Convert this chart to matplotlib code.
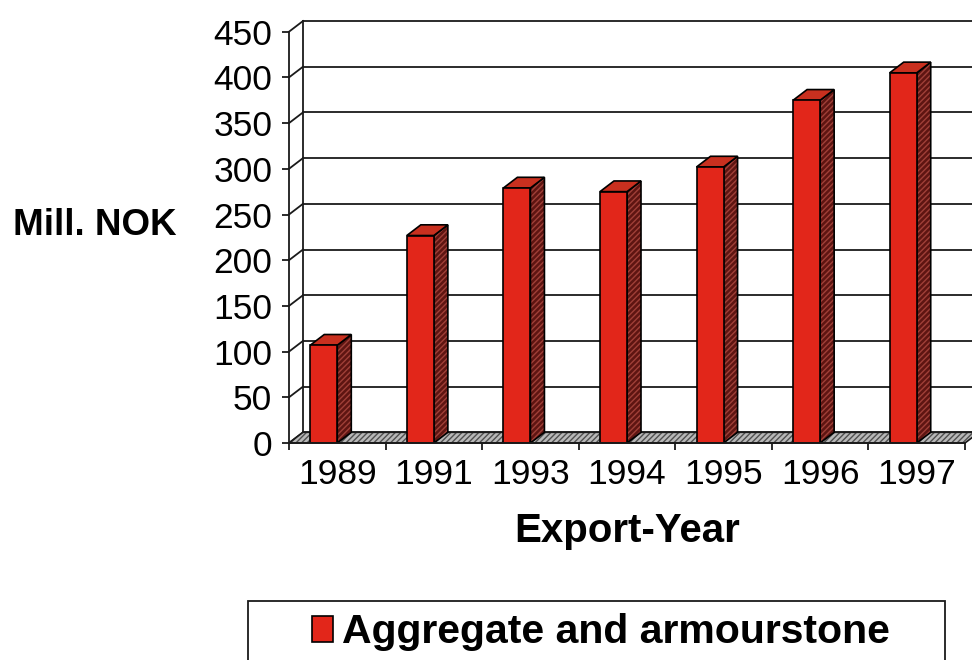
import matplotlib.pyplot as plt
from matplotlib.patches import Polygon, Rectangle

plt.rcParams['font.family'] = ['Liberation Sans', 'DejaVu Sans']

years = ['1989', '1991', '1993', '1994', '1995', '1996', '1997']
export_mnok = [107, 227, 279, 275, 302, 375, 405]
y_ticks = [0, 50, 100, 150, 200, 250, 300, 350, 400, 450]
series_name = 'Aggregate and armourstone'

# fake 3d depth (in data units)
dx = 0.145
dy = 11.7
bar_w = 0.28
front_red = '#e2261a'
side_red = '#5e1512'
top_red = '#c9301f'
line_col = '#1a1a1a'

fig = plt.figure(figsize=(9.72, 6.6), dpi=100)
ax = fig.add_axes([289 / 972, 217 / 660, 676 / 972, 411.3 / 660])
n = len(years)
ax.set_xlim(0, n)
ax.set_ylim(0, max(y_ticks))

# back wall grid + left wall connectors
for v in y_ticks:
    ax.plot([dx, n + dx], [v + dy, v + dy], color=line_col, lw=1.3, zorder=1, clip_on=False)
    ax.plot([0, dx], [v, v + dy], color=line_col, lw=1.3, zorder=1, clip_on=False)
ax.plot([dx, dx], [dy, max(y_ticks) + dy], color=line_col, lw=1.3, zorder=1, clip_on=False)

# floor
floor = [(0, 0), (n, 0), (n + dx, dy), (dx, dy)]
ax.add_patch(Polygon(floor, closed=True, facecolor='#b8b8b8', edgecolor='#505050',
                     hatch='//////', lw=0, zorder=2, clip_on=False))
ax.add_patch(Polygon(floor, closed=True, fill=False, edgecolor=line_col, lw=1.2,
                     zorder=2, clip_on=False))

# bars
lefts = [i + 0.5 - bar_w for i in range(n)]
bars = ax.bar(lefts, export_mnok, width=bar_w, align='edge', color=front_red,
              edgecolor='black', lw=1.2, zorder=4, label=series_name)
for x0, v in zip(lefts, export_mnok):
    x1 = x0 + bar_w
    side = [(x1, 0), (x1 + dx, dy), (x1 + dx, v + dy), (x1, v)]
    top = [(x0, v), (x1, v), (x1 + dx, v + dy), (x0 + dx, v + dy)]
    ax.add_patch(Polygon(side, closed=True, facecolor=side_red, edgecolor='#a04038',
                         hatch='//////', lw=0, zorder=3))
    ax.add_patch(Polygon(side, closed=True, fill=False, edgecolor='black', lw=1.2, zorder=3))
    ax.add_patch(Polygon(top, closed=True, facecolor=top_red, edgecolor='black',
                         lw=1.2, zorder=3))

for s in ['top', 'right']:
    ax.spines[s].set_visible(False)
for s in ['left', 'bottom']:
    ax.spines[s].set_linewidth(1.3)
    ax.spines[s].set_color(line_col)
    ax.spines[s].set_zorder(5)

ax.set_yticks(y_ticks)
ax.set_yticklabels([str(v) for v in y_ticks], fontsize=25.5)
ax.tick_params(axis='y', length=5, width=1.3, pad=7, color=line_col)

ax.set_xticks([i + 0.5 for i in range(n)])
ax.set_xticklabels(years, fontsize=25.5)
ax.set_xticks(range(n + 1), minor=True)
ax.tick_params(axis='x', which='major', length=0, pad=11)
ax.tick_params(axis='x', which='minor', length=5, width=1.3, color=line_col)

ax.set_xlabel('Export-Year', fontsize=29, fontweight='bold', labelpad=15)
ax.set_ylabel('Mill. NOK', fontsize=26.5, fontweight='bold', rotation=0, ha='center', va='center')
ax.yaxis.set_label_coords(-0.287, 0.528)

# legend box (bottom runs off the page)
fig.add_artist(Rectangle((248 / 972, -20 / 660), 697 / 972, 79 / 660, transform=fig.transFigure,
                         fill=False, edgecolor=line_col, lw=1.3))
fig.legend(handles=[bars], labels=[series_name], loc='center left',
           bbox_to_anchor=(312 / 972, 1 - 632 / 660), frameon=False, borderpad=0,
           borderaxespad=0, handlelength=0.52, handleheight=0.6, handletextpad=0.2,
           prop={'size': 29.5, 'weight': 'bold'})

fig.savefig('out.png', dpi=100)
